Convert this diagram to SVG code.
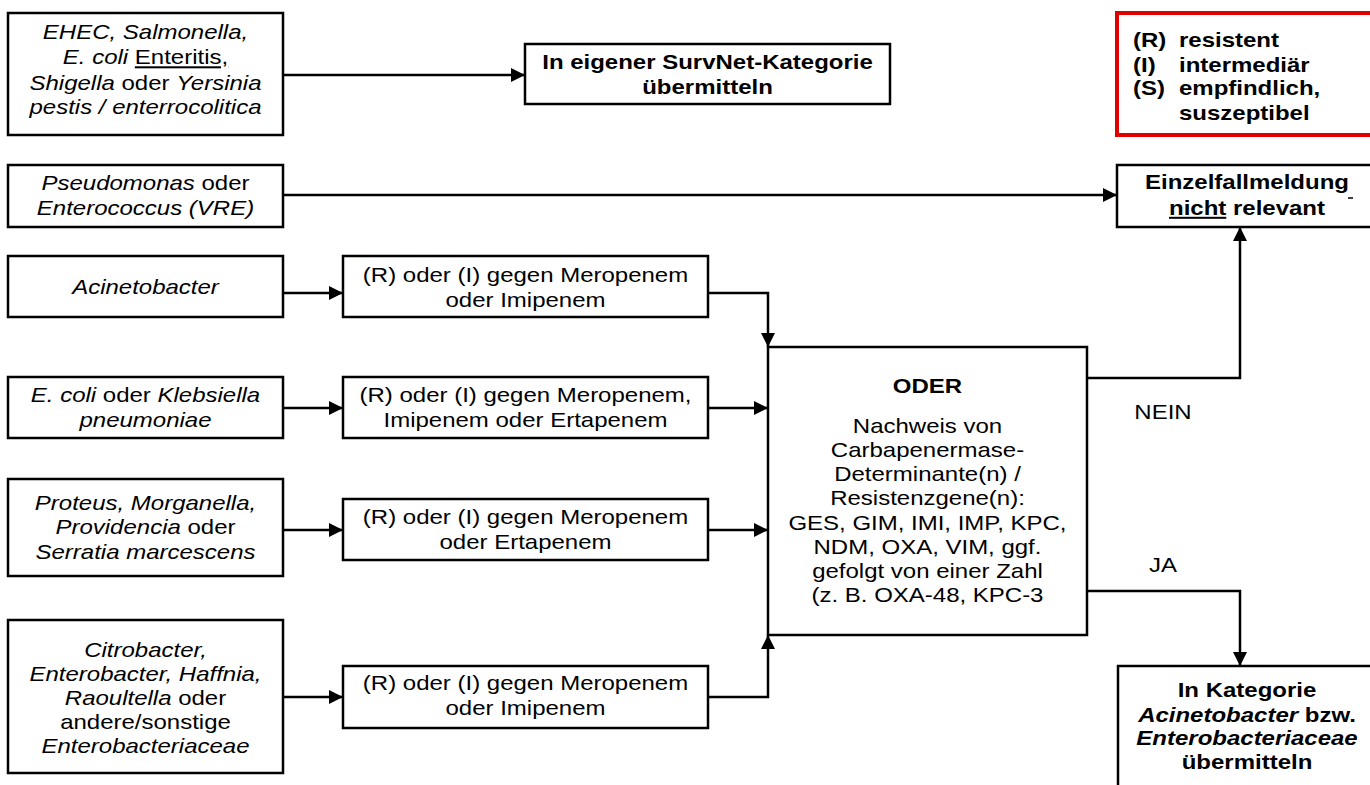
<svg xmlns="http://www.w3.org/2000/svg" width="1370" height="785" viewBox="0 0 1370 785">
<defs>
<marker id="ah" markerUnits="userSpaceOnUse" markerWidth="14" markerHeight="14" viewBox="0 0 14 14" refX="14" refY="7" orient="auto"><path d="M0,0 L14,7 L0,14 z" fill="#000"/></marker>
</defs>
<style>
.box{fill:#fff;stroke:#000;stroke-width:2.5}
.red{fill:#fff;stroke:#e00000;stroke-width:4}
.t{font-family:"Liberation Sans",Arial,sans-serif;font-size:20px;fill:#000;text-anchor:middle}
.l{text-anchor:start}
.b{font-weight:bold}
.i{font-style:italic}
.u{text-decoration:underline}
.c{fill:none;stroke:#000;stroke-width:2.5}
</style>
<rect width="1370" height="785" fill="#fff"/>

<g id="connectors">
<path class="c" d="M283,75 H525" marker-end="url(#ah)"/>
<path class="c" d="M283,195 H1117" marker-end="url(#ah)"/>
<path class="c" d="M283,293 H343" marker-end="url(#ah)"/>
<path class="c" d="M708,293 H768 V347" marker-end="url(#ah)"/>
<path class="c" d="M283,408 H343" marker-end="url(#ah)"/>
<path class="c" d="M708,408 H768" marker-end="url(#ah)"/>
<path class="c" d="M283,530 H343" marker-end="url(#ah)"/>
<path class="c" d="M708,530 H768" marker-end="url(#ah)"/>
<path class="c" d="M283,697 H343" marker-end="url(#ah)"/>
<path class="c" d="M708,697 H768 V635" marker-end="url(#ah)"/>
<path class="c" d="M1087,378 H1240 V227" marker-end="url(#ah)"/>
<path class="c" d="M1087,591 H1240 V666" marker-end="url(#ah)"/>
<g transform="scale(1.2 1)">
<text class="t" x="969.17" y="419">NEIN</text>
<text class="t" x="969.17" y="572">JA</text>
</g>
</g>

<g id="n-enteric">
<rect class="box" x="8" y="13" width="275" height="122"/>
<g transform="scale(1.2 1)">
<text class="t" x="121.25" y="39"><tspan class="i">EHEC, Salmonella,</tspan></text>
<text class="t" x="121.25" y="64.5"><tspan class="i">E. coli</tspan> <tspan class="u">Enteritis,</tspan></text>
<text class="t" x="121.25" y="90"><tspan class="i">Shigella</tspan> oder <tspan class="i">Yersinia</tspan></text>
<text class="t" x="121.25" y="114"><tspan class="i">pestis / enterrocolitica</tspan></text>
</g>
</g>

<g id="n-survnet">
<rect class="box" x="525" y="44" width="365" height="60"/>
<g transform="scale(1.2 1)">
<text class="t b" x="589.58" y="69">In eigener SurvNet-Kategorie</text>
<text class="t b" x="589.58" y="94">übermitteln</text>
</g>
</g>

<g id="n-legend">
<rect class="red" x="1117" y="13" width="262" height="122"/>
<g transform="scale(1.2 1)">
<text class="t b l" x="944.17" y="47">(R)</text><text class="t b l" x="982.5" y="47">resistent</text>
<text class="t b l" x="944.17" y="72">(I)</text><text class="t b l" x="982.5" y="72">intermediär</text>
<text class="t b l" x="944.17" y="95">(S)</text><text class="t b l" x="982.5" y="95">empfindlich,</text>
<text class="t b l" x="982.5" y="120">suszeptibel</text>
</g>
</g>

<g id="n-pseudomonas">
<rect class="box" x="8" y="165" width="275" height="62"/>
<g transform="scale(1.2 1)">
<text class="t" x="121.25" y="190"><tspan class="i">Pseudomonas</tspan> oder</text>
<text class="t" x="121.25" y="215"><tspan class="i">Enterococcus (VRE)</tspan></text>
</g>
</g>

<g id="n-einzelfall">
<rect class="box" x="1117" y="165" width="262" height="62"/>
<line x1="1348" y1="198" x2="1353" y2="198" stroke="#000" stroke-width="1.5"/>
<g transform="scale(1.2 1)">
<text class="t b" x="1039.17" y="189">Einzelfallmeldung</text>
<text class="t b" x="1039.17" y="215"><tspan class="u">nicht</tspan> relevant</text>
</g>
</g>

<g id="n-acinetobacter">
<rect class="box" x="8" y="256" width="275" height="61"/>
<g transform="scale(1.2 1)">
<text class="t i" x="121.25" y="294">Acinetobacter</text>
</g>
</g>

<g id="n-mid1">
<rect class="box" x="343" y="256" width="365" height="61"/>
<g transform="scale(1.2 1)">
<text class="t" x="437.92" y="282">(R) oder (I) gegen Meropenem</text>
<text class="t" x="437.92" y="307">oder Imipenem</text>
</g>
</g>

<g id="n-ecoli">
<rect class="box" x="8" y="377" width="275" height="61"/>
<g transform="scale(1.2 1)">
<text class="t" x="121.25" y="402"><tspan class="i">E. coli</tspan> oder <tspan class="i">Klebsiella</tspan></text>
<text class="t i" x="121.25" y="427">pneumoniae</text>
</g>
</g>

<g id="n-mid2">
<rect class="box" x="343" y="377" width="365" height="61"/>
<g transform="scale(1.2 1)">
<text class="t" x="437.92" y="402">(R) oder (I) gegen Meropenem,</text>
<text class="t" x="437.92" y="427">Imipenem oder Ertapenem</text>
</g>
</g>

<g id="n-proteus">
<rect class="box" x="8" y="479" width="275" height="97"/>
<g transform="scale(1.2 1)">
<text class="t i" x="121.25" y="510">Proteus, Morganella,</text>
<text class="t" x="121.25" y="534.5"><tspan class="i">Providencia</tspan> oder</text>
<text class="t i" x="121.25" y="559">Serratia marcescens</text>
</g>
</g>

<g id="n-mid3">
<rect class="box" x="343" y="499" width="365" height="61"/>
<g transform="scale(1.2 1)">
<text class="t" x="437.92" y="524">(R) oder (I) gegen Meropenem</text>
<text class="t" x="437.92" y="549">oder Ertapenem</text>
</g>
</g>

<g id="n-citrobacter">
<rect class="box" x="8" y="620" width="275" height="153"/>
<g transform="scale(1.2 1)">
<text class="t i" x="121.25" y="657">Citrobacter,</text>
<text class="t i" x="121.25" y="681">Enterobacter, Haffnia,</text>
<text class="t" x="121.25" y="705"><tspan class="i">Raoultella</tspan> oder</text>
<text class="t" x="121.25" y="729">andere/sonstige</text>
<text class="t i" x="121.25" y="753">Enterobacteriaceae</text>
</g>
</g>

<g id="n-mid4">
<rect class="box" x="343" y="666" width="365" height="62"/>
<g transform="scale(1.2 1)">
<text class="t" x="437.92" y="690">(R) oder (I) gegen Meropenem</text>
<text class="t" x="437.92" y="715">oder Imipenem</text>
</g>
</g>

<g id="n-oder">
<rect class="box" x="768" y="347" width="319" height="288"/>
<g transform="scale(1.2 1)">
<text class="t b" x="772.92" y="393">ODER</text>
<text class="t" x="772.92" y="433">Nachweis von</text>
<text class="t" x="772.92" y="457">Carbapenermase-</text>
<text class="t" x="772.92" y="481">Determinante(n) /</text>
<text class="t" x="772.92" y="505">Resistenzgene(n):</text>
<text class="t" x="772.92" y="530">GES, GIM, IMI, IMP, KPC,</text>
<text class="t" x="772.92" y="554">NDM, OXA, VIM, ggf.</text>
<text class="t" x="772.92" y="578">gefolgt von einer Zahl</text>
<text class="t" x="772.92" y="602">(z. B. OXA-48, KPC-3</text>
</g>
</g>

<g id="n-kategorie">
<rect class="box" x="1118" y="666" width="262" height="130"/>
<g transform="scale(1.2 1)">
<text class="t b" x="1039.17" y="697">In Kategorie</text>
<text class="t b" x="1039.17" y="722"><tspan class="i">Acinetobacter</tspan> bzw.</text>
<text class="t b i" x="1039.17" y="745">Enterobacteriaceae</text>
<text class="t b" x="1039.17" y="769">übermitteln</text>
</g>
</g>
</svg>
